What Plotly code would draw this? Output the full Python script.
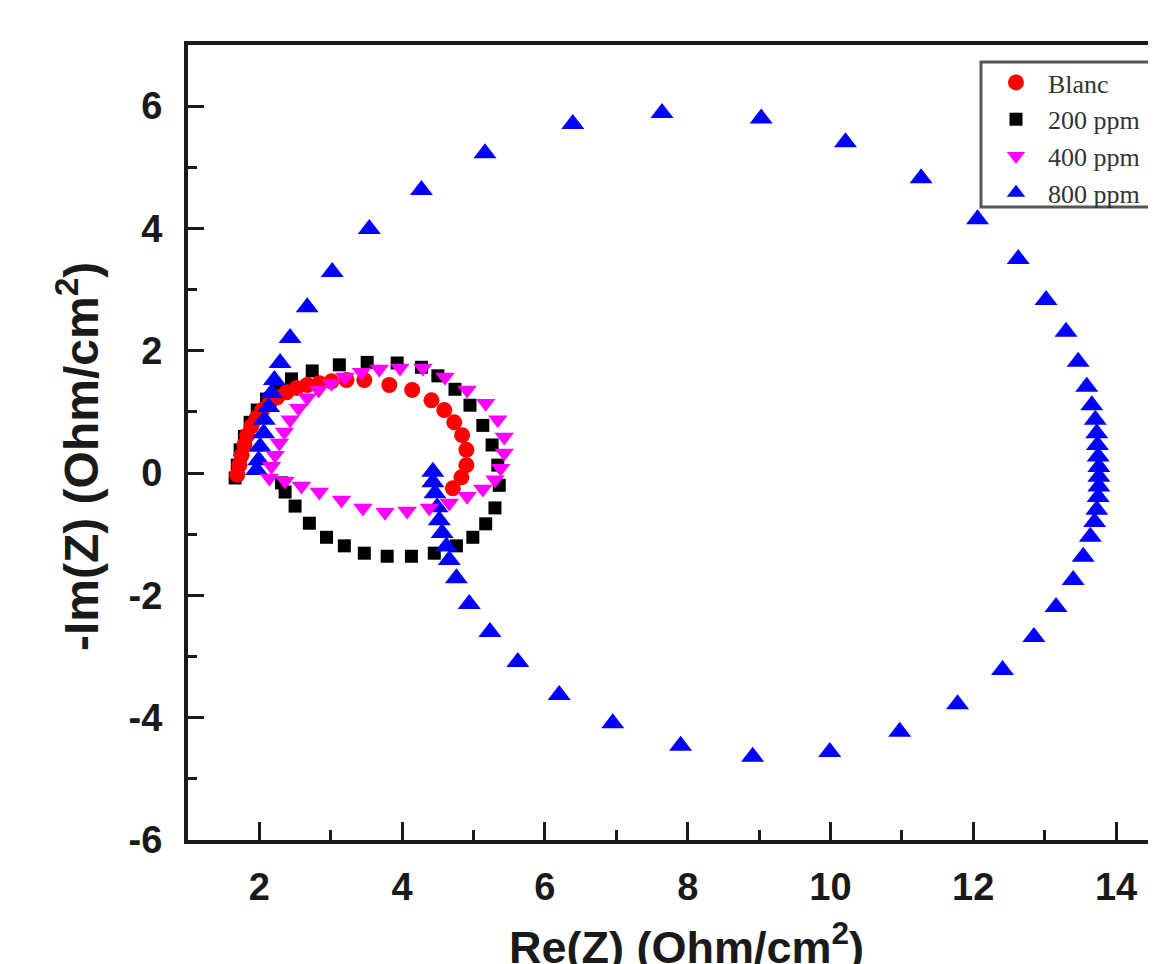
import plotly.graph_objects as go

# ---- data (Re(Z), -Im(Z)) ----
blanc_x = [1.69, 1.72, 1.75, 1.79, 1.83, 1.89, 1.96, 2.04, 2.14, 2.25, 2.38, 2.52, 2.67, 2.84,
           3.01, 3.22, 3.47, 3.82, 4.14, 4.41, 4.59, 4.73, 4.84, 4.90, 4.90, 4.83, 4.71]
blanc_y = [-0.03, 0.13, 0.29, 0.46, 0.62, 0.77, 0.90, 1.03, 1.14, 1.24, 1.32, 1.39, 1.44, 1.47,
           1.50, 1.52, 1.52, 1.44, 1.36, 1.19, 1.03, 0.83, 0.62, 0.38, 0.13, -0.07, -0.25]

ppm200_x = [1.66, 1.69, 1.73, 1.79, 1.87, 1.97, 2.10, 2.25, 2.45, 2.74, 3.12, 3.51, 3.93, 4.27,
            4.50, 4.74, 4.95, 5.13, 5.26, 5.34, 5.36, 5.30, 5.17, 4.99, 4.76, 4.45, 4.13, 3.79,
            3.47, 3.19, 2.94, 2.70, 2.50, 2.36, 2.31]
ppm200_y = [-0.08, 0.13, 0.38, 0.60, 0.83, 1.03, 1.21, 1.37, 1.54, 1.67, 1.77, 1.81, 1.80, 1.73,
            1.59, 1.37, 1.11, 0.78, 0.46, 0.13, -0.20, -0.57, -0.83, -1.05, -1.19, -1.31, -1.36, -1.36,
            -1.31, -1.19, -1.05, -0.82, -0.54, -0.31, -0.16]

ppm400_x = [2.14, 2.17, 2.22, 2.28, 2.35, 2.43, 2.55, 2.67, 2.83, 3.01, 3.20, 3.43, 3.68, 3.97,
            4.29, 4.60, 4.91, 5.17, 5.34, 5.43, 5.43, 5.38, 5.30, 5.13, 4.91, 4.66, 4.38, 4.07,
            3.76, 3.45, 3.15, 2.84, 2.59, 2.36]
ppm400_y = [-0.08, 0.11, 0.29, 0.49, 0.67, 0.87, 1.06, 1.23, 1.36, 1.47, 1.57, 1.65, 1.70, 1.72,
            1.72, 1.57, 1.36, 1.14, 0.87, 0.59, 0.33, 0.08, -0.11, -0.26, -0.38, -0.49, -0.57, -0.62,
            -0.64, -0.57, -0.44, -0.31, -0.21, -0.13]

ppm800_x = [1.96, 1.99, 2.01, 2.06, 2.07, 2.13, 2.17, 2.21, 2.29, 2.43, 2.67, 3.02, 3.54, 4.27,
            5.16, 6.39, 7.64, 9.03, 10.21, 11.27, 12.06, 12.63, 13.02, 13.30, 13.47, 13.59, 13.66,
            13.71, 13.73, 13.74, 13.75, 13.76, 13.76, 13.76, 13.75, 13.73, 13.70, 13.64, 13.54,
            13.40, 13.16, 12.85, 12.41, 11.78, 10.97, 9.99, 8.91, 7.90, 6.95, 6.20, 5.62, 5.23,
            4.94, 4.76, 4.66, 4.62, 4.56, 4.52, 4.49, 4.46, 4.43, 4.43]
ppm800_y = [0.05, 0.21, 0.43, 0.65, 0.87, 1.08, 1.31, 1.52, 1.80, 2.21, 2.71, 3.29, 3.99, 4.63,
            5.23, 5.71, 5.89, 5.80, 5.41, 4.82, 4.15, 3.50, 2.83, 2.31, 1.82, 1.41, 1.11,
            0.87, 0.65, 0.46, 0.27, 0.10, -0.06, -0.22, -0.39, -0.60, -0.80, -1.04, -1.37,
            -1.75, -2.19, -2.68, -3.22, -3.78, -4.23, -4.56, -4.64, -4.46, -4.09, -3.63, -3.09, -2.60,
            -2.14, -1.72, -1.42, -1.20, -0.98, -0.77, -0.56, -0.33, -0.15, 0.02]

series_names = ["Blanc", "200 ppm", "400 ppm", "800 ppm"]
x_ticks = [2, 4, 6, 8, 10, 12, 14]
y_ticks = [-6, -4, -2, 0, 2, 4, 6]

# page body has an 8px margin; screen coords (X, Y) -> paper coords
W, H = 1148, 956
ML, MT, MB = 180, 37, 124
PW, PH = W - ML, H - MT - MB


def px(X):
    return (X - 8 - ML) / PW


def py(Y):
    return 1 - (Y - 8 - MT) / PH


fig = go.Figure()
fig.add_trace(go.Scatter(x=ppm200_x, y=ppm200_y, mode="markers", name=series_names[1],
                         legendrank=2,
                         marker=dict(symbol="square", size=13, color="#000000")))
fig.add_trace(go.Scatter(x=blanc_x, y=blanc_y, mode="markers", name=series_names[0],
                         legendrank=1,
                         marker=dict(symbol="circle", size=16, color="#ff0000")))
fig.add_trace(go.Scatter(x=ppm800_x, y=ppm800_y, mode="markers", name=series_names[3],
                         legendrank=4,
                         marker=dict(symbol="triangle-up", size=20, color="#0000ff")))
fig.add_trace(go.Scatter(x=ppm400_x, y=ppm400_y, mode="markers", name=series_names[2],
                         legendrank=3,
                         marker=dict(symbol="triangle-down", size=17, color="#ff00ff")))

sans = "Liberation Sans, Arial, sans-serif"
dark = "#1a1a1a"

fig.update_layout(
    width=W, height=H,
    margin=dict(l=ML, r=0, t=MT, b=MB),
    paper_bgcolor="white", plot_bgcolor="white",
    showlegend=True,
    legend=dict(x=px(984), y=py(59), xanchor="left", yanchor="top",
                bgcolor="rgba(0,0,0,0)", borderwidth=0,
                font=dict(family="Liberation Serif, Times New Roman, serif", size=26, color="#333333"),
                tracegroupgap=0, itemwidth=54),
    xaxis=dict(range=[1.0, 14.56], tickvals=x_ticks, ticktext=[str(v) for v in x_ticks],
               ticks="inside", ticklen=18, tickwidth=3, tickcolor=dark,
               minor=dict(tickvals=[3, 5, 7, 9, 11, 13], ticks="inside", ticklen=10,
                          tickwidth=3, tickcolor=dark),
               showline=True, linewidth=4, linecolor=dark, mirror=True,
               showgrid=False, zeroline=False,
               tickfont=dict(family=sans, size=38, color=dark, weight="bold"),
               ticklabelstandoff=10),
    yaxis=dict(range=[-6.0, 7.0], tickvals=y_ticks, ticktext=[str(v) for v in y_ticks],
               ticks="inside", ticklen=16, tickwidth=3, tickcolor=dark,
               minor=dict(tickvals=[-5, -3, -1, 1, 3, 5], ticks="inside", ticklen=9,
                          tickwidth=3, tickcolor=dark),
               showline=True, linewidth=4, linecolor=dark, mirror=False,
               showgrid=False, zeroline=False,
               tickfont=dict(family=sans, size=38, color=dark, weight="bold"),
               ticklabelstandoff=14),
    shapes=[
        dict(type="rect", xref="paper", yref="paper",
             x0=px(981), x1=px(1175), y0=py(207), y1=py(62),
             line=dict(color="#555555", width=3), fillcolor="white", layer="above"),
    ],
    annotations=[
        dict(text="<b>Re(Z) (Ohm/cm<sup>2</sup>)</b>", xref="paper", yref="paper",
             x=px(686), y=py(944), xanchor="center", yanchor="middle",
             showarrow=False, font=dict(family=sans, size=45, color=dark)),
        dict(text="<b>-Im(Z) (Ohm/cm<sup>2</sup>)</b>", xref="paper", yref="paper",
             x=px(78), y=py(457), xanchor="center", yanchor="middle",
             textangle=-90, showarrow=False, font=dict(family=sans, size=48, color=dark)),
    ],
)

fig.write_html("out.html")
